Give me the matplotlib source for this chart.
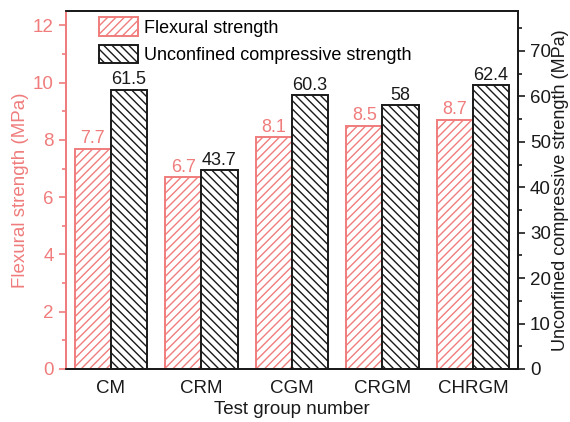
import matplotlib
matplotlib.use('Agg')
import matplotlib.pyplot as plt
import numpy as np
from matplotlib.ticker import MultipleLocator

plt.rcParams['font.family'] = ['Liberation Sans', 'DejaVu Sans']
plt.rcParams['hatch.linewidth'] = 1.0

groups = ['CM', 'CRM', 'CGM', 'CRGM', 'CHRGM']
flexural = [7.7, 6.7, 8.1, 8.5, 8.7]
ucs = [61.5, 43.7, 60.3, 58, 62.4]
flex_labels = ['7.7', '6.7', '8.1', '8.5', '8.7']
ucs_labels = ['61.5', '43.7', '60.3', '58', '62.4']

pink = '#F07C7C'
dark = '#1a1a1a'

fig = plt.figure(figsize=(5.7, 4.22), dpi=100)
ax1 = fig.add_axes([0.115, 0.1256, 0.794, 0.848])
ax2 = ax1.twinx()

x = np.arange(len(groups))
w = 0.4

b1 = ax1.bar(x - w/2, flexural, w, color='white', edgecolor=pink, hatch='////', linewidth=1.4,
             label='Flexural strength')
b2 = ax2.bar(x + w/2, ucs, w, color='white', edgecolor=dark, hatch='\\\\\\\\', linewidth=1.4,
             label='Unconfined compressive strength')

for xi, v, s in zip(x, flexural, flex_labels):
    ax1.text(xi - w/2, v + 0.05, s, ha='center', va='bottom', color=pink, fontsize=13)
for xi, v, s in zip(x, ucs, ucs_labels):
    ax2.text(xi + w/2, v + 0.3, s, ha='center', va='bottom', color=dark, fontsize=13)

ax1.set_xlim(-0.5, 4.5)
ax1.set_ylim(0, 12.5)
ax2.set_ylim(0, 78.75)
ax1.set_xticks(x)
ax1.set_xticklabels(groups, fontsize=13.5, color=dark)
ax1.tick_params(axis='x', length=0, pad=8)

ax1.yaxis.set_major_locator(MultipleLocator(2))
ax1.yaxis.set_minor_locator(MultipleLocator(1))
ax2.yaxis.set_major_locator(MultipleLocator(10))
ax2.yaxis.set_minor_locator(MultipleLocator(5))

ax1.tick_params(axis='y', which='major', direction='out', length=5, width=1.2, colors=pink, labelsize=13.5)
ax1.tick_params(axis='y', which='minor', direction='out', length=3, width=1.2, colors=pink)
ax2.tick_params(axis='y', which='major', direction='out', length=5, width=1.2, colors=dark, labelsize=13.5)
ax2.tick_params(axis='y', which='minor', direction='out', length=3, width=1.2, colors=dark)

for a in (ax1, ax2):
    a.spines['left'].set_color(pink)
    a.spines['right'].set_color(dark)
    a.spines['top'].set_color(dark)
    a.spines['bottom'].set_color(dark)
    for s in a.spines.values():
        s.set_linewidth(1.3)

ax1.set_ylabel('Flexural strength (MPa)', color=pink, fontsize=13.5, labelpad=3)
ax2.set_ylabel('Unconfined compressive strength (MPa)', color=dark, fontsize=13, labelpad=1)
ax1.set_xlabel('Test group number', color=dark, fontsize=13.5, labelpad=3)

ax2.legend([b1, b2], ['Flexural strength', 'Unconfined compressive strength'],
           loc='upper left', bbox_to_anchor=(0.045, 1.018), frameon=False, fontsize=13,
           handlelength=2.2, handleheight=1.2, handletextpad=0.3, labelspacing=0.45,
           borderaxespad=0.3)

fig.savefig('out.png', dpi=100)
